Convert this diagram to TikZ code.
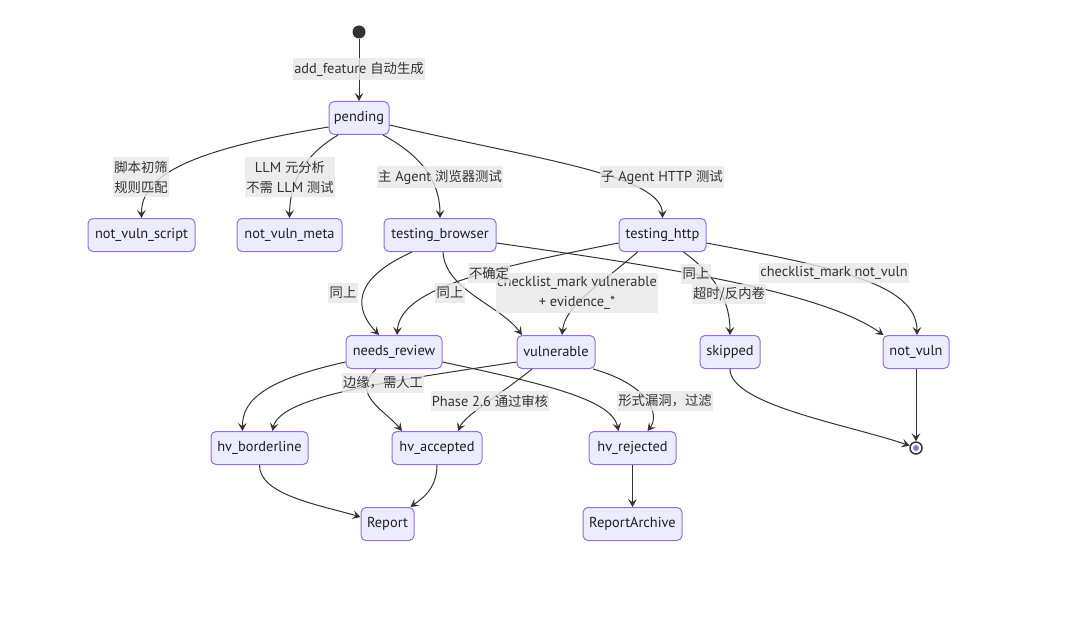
\documentclass[tikz,border=0pt]{standalone}
\usepackage{fontspec}
\setmainfont{PT Sans}[Scale=1.08]
\newfontfamily\cjkfont{Noto Sans CJK SC}
\newcommand\zh[1]{{\cjkfont #1}}
\usetikzlibrary{arrows.meta,calc}
\definecolor{nodefill}{HTML}{ECECFF}
\definecolor{nodeborder}{HTML}{9370DB}
\definecolor{linec}{HTML}{333333}
\definecolor{textc}{HTML}{333333}
\definecolor{lblbg}{HTML}{E8E8E8}
\begin{document}
\begin{tikzpicture}[x=0.75pt,y=-0.75pt,
  st/.style={draw=nodeborder, fill=nodefill, rounded corners=3.75pt, line width=0.75pt,
    minimum height=24.75pt, minimum width=#1*0.75pt, inner xsep=0pt, inner ysep=0pt,
    font=\fontsize{10}{12}\selectfont, text=black!88},
  lbl/.style={fill=lblbg, fill opacity=0.8, text opacity=1, inner xsep=1pt, inner ysep=2.6pt,
    font=\fontsize{10}{15}\selectfont, text=textc, align=center},
  tr/.style={draw=linec, line width=0.75pt, -{Stealth[length=6pt,width=6.5pt,inset=2.5pt]}},
]
\fill[white] (0,0) rectangle (1080,638);
\useasboundingbox (0,0) rectangle (1080,638);

% states
\node[circle, fill=linec, minimum size=9.75pt, inner sep=0pt] (start) at (359,32) {};
\node[st=60] (pending) at (359,118) {pending};
\node[st=107] (nvs) at (141.5,235) {not\_vuln\_script};
\node[st=105] (nvm) at (289.5,235) {not\_vuln\_meta};
\node[st=112] (tb) at (440,235) {testing\_browser};
\node[st=87] (th) at (662.5,235) {testing\_http};
\node[st=96] (nr) at (394,352) {needs\_review};
\node[st=78] (vul) at (556,352) {vulnerable};
\node[st=60] (sk) at (730,352) {skipped};
\node[st=66] (nv) at (916,352) {not\_vuln};
\node[st=97] (hb) at (259.5,448) {hv\_borderline};
\node[st=90] (ha) at (437,448) {hv\_accepted};
\node[st=87] (hr) at (632.5,448) {hv\_rejected};
\node[st=53] (rep) at (387.5,524) {Report};
\node[st=99] (ra) at (632.5,524) {ReportArchive};
\node[circle, draw=linec, line width=1.1pt, fill=white, minimum size=9pt, inner sep=0pt] (fin) at (916,448) {};
\fill[nodeborder] (fin.center) circle (3);

% transitions
\draw[tr] (start) -- (pending);
\draw[tr] ($(pending.west)+(0,9)$) .. controls (190,150) and (141,175) .. (nvs.north);
\draw[tr] ($(pending.south)+(-21,0)$) .. controls (305,155) and (290,180) .. (nvm.north);
\draw[tr] ($(pending.south)+(24,0)$) .. controls (420,155) and (440,180) .. (tb.north);
\draw[tr] ($(pending.east)+(0,7)$) .. controls (540,160) and (662,175) .. (th.north);
\draw[tr] ($(tb.south)+(-28,0)$) .. controls (350,280) and (355,310) .. ($(nr.north)+(-15,0)$);
\draw[tr] ($(tb.south)+(3,0)$) .. controls (445,290) and (500,305) .. ($(vul.north)+(-34,0)$);
\draw[tr] ($(tb.east)+(0,8)$) .. controls (650,265) and (820,290) .. ($(nv.north west)+(1,0)$);
\draw[tr] ($(th.west)+(0,8)$) .. controls (480,270) and (400,290) .. ($(nr.north)+(3,0)$);
\draw[tr] ($(th.south)+(-25,0)$) .. controls (600,285) and (565,305) .. ($(vul.north)+(6,0)$);
\draw[tr] ($(th.south)+(21,0)$) .. controls (715,275) and (730,300) .. (sk.north);
\draw[tr] ($(th.east)+(0,8)$) .. controls (840,268) and (917,285) .. ($(nv.north)+(1,0)$);
\draw[tr] ($(nr.west)+(0,10)$) .. controls (265,380) and (242,400) .. ($(hb.north)+(-17,0)$);
\draw[tr] ($(vul.west)+(0,10)$) .. controls (400,380) and (280,395) .. ($(hb.north)+(13,0)$);
\draw[tr] ($(nr.south)+(-18,0)$) .. controls (350,395) and (385,410) .. ($(ha.north)+(-35,0)$);
\draw[tr] ($(vul.south)+(-24,0)$) .. controls (500,395) and (465,415) .. ($(ha.north)+(21,0)$);
\draw[tr] ($(nr.east)+(0,10)$) .. controls (550,385) and (612,400) .. ($(hr.north)+(-14,0)$);
\draw[tr] ($(vul.south)+(37,0)$) .. controls (650,385) and (660,415) .. ($(hr.north)+(15,0)$);
\draw[tr] (hb.south) .. controls (259,495) and (320,505) .. ($(rep.west)+(0,-7)$);
\draw[tr] (ha.south) .. controls (437,490) and (420,500) .. ($(rep.north)+(23,0)$);
\draw[tr] (hr) -- (ra);
\draw[tr] (sk.south) .. controls (730,405) and (850,425) .. (fin.160);
\draw[tr] (nv) -- (fin);

% labels
\node[lbl] (l1) at (359,69) {add\_feature \zh{自动生成}};
\node[lbl] (l2) at (141,177) {\zh{脚本初筛}\\\zh{规则匹配}};
\node[lbl] (l3) at (290,177) {LLM \zh{元分析}\\\zh{不需} LLM \zh{测试}};
\node[lbl] (l4) at (440,177) {\zh{主} Agent \zh{浏览器测试}};
\node[lbl] (l5) at (662,177) {\zh{子} Agent HTTP \zh{测试}};
\node[lbl] (l6) at (343,293) {\zh{同上}};
\node[lbl] (l7) at (450,293) {\zh{同上}};
\node[lbl] (l8) at (577,293) {checklist\_mark vulnerable\\+ evidence\_*};
\node[lbl] (l9) at (489,273) {\zh{不确定}};
\node[lbl] (l10) at (729,294) {\zh{超时/反内卷}};
\node[lbl] (l11) at (696,274) {\zh{同上}};
\node[lbl] (l12) at (834,273) {checklist\_mark not\_vuln};
\node[lbl] (l13) at (383,383) {\zh{边缘，需人工}};
\node[lbl] (l14) at (490,401) {Phase 2.6 \zh{通过审核}};
\node[lbl] (l15) at (665,401) {\zh{形式漏洞，过滤}};
\end{tikzpicture}
\end{document}
